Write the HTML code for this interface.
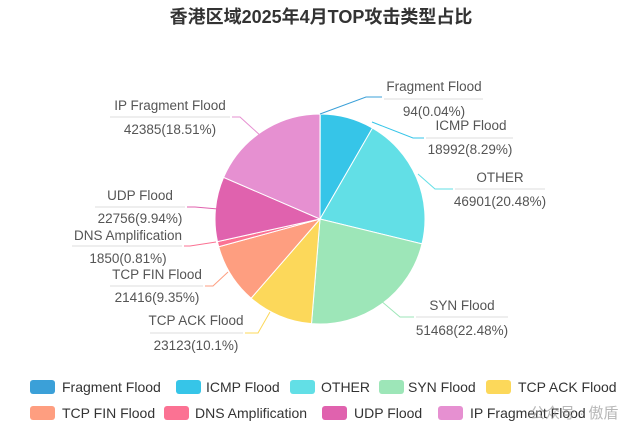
<!DOCTYPE html>
<html><head><meta charset="utf-8"><style>
body{margin:0;width:642px;height:434px;background:#fff;overflow:hidden;font-family:"Liberation Sans","Noto Sans CJK SC",sans-serif}
</style></head><body>
<svg id="s" width="642" height="434" xmlns="http://www.w3.org/2000/svg" font-family="Liberation Sans, Noto Sans CJK SC, sans-serif">
<text x="321" y="23" text-anchor="middle" font-size="18" font-weight="bold" fill="#333">香港区域2025年4月TOP攻击类型占比</text>
<g id="pie"></g>
<g font-size="13.5" fill="#555" text-anchor="middle" stroke-width="1">
<polyline points="320,114 366,97 382,97" fill="none" stroke="#3ba0d8"/>
<text x="434" y="91">Fragment Flood</text><line x1="384" y1="99" x2="483" y2="99" stroke="#ddd"/><text x="434" y="116">94(0.04%)</text>
<polyline points="372,122 413,138 424,138" fill="none" stroke="#36c5e8"/>
<text x="471" y="130">ICMP Flood</text><line x1="426" y1="138" x2="513" y2="138" stroke="#ddd"/><text x="470" y="154">18992(8.29%)</text>
<polyline points="418,174 435,189 453,189" fill="none" stroke="#62dfe6"/>
<text x="500" y="182">OTHER</text><line x1="455" y1="189" x2="545" y2="189" stroke="#ddd"/><text x="500" y="206">46901(20.48%)</text>
<polyline points="380,300 400,317 414,317" fill="none" stroke="#9de6b8"/>
<text x="462" y="310">SYN Flood</text><line x1="416" y1="317" x2="508" y2="317" stroke="#ddd"/><text x="462" y="335">51468(22.48%)</text>
<polyline points="270,312 258,333 245,333" fill="none" stroke="#fcd85a"/>
<text x="196" y="325">TCP ACK Flood</text><line x1="150" y1="333" x2="243" y2="333" stroke="#ddd"/><text x="196" y="350">23123(10.1%)</text>
<polyline points="228,272 213,286 205,286" fill="none" stroke="#fe9e80"/>
<text x="157" y="279">TCP FIN Flood</text><line x1="110" y1="286" x2="203" y2="286" stroke="#ddd"/><text x="157" y="302">21416(9.35%)</text>
<polyline points="216,242 190,246 184,246" fill="none" stroke="#fb7293"/>
<text x="128" y="240">DNS Amplification</text><line x1="72" y1="246" x2="182" y2="246" stroke="#ddd"/><text x="128" y="263">1850(0.81%)</text>
<polyline points="218,209 195,207 187,207" fill="none" stroke="#e062ae"/>
<text x="140" y="200">UDP Flood</text><line x1="95" y1="207" x2="185" y2="207" stroke="#ddd"/><text x="140" y="223">22756(9.94%)</text>
<polyline points="262,137 240,117 232,117" fill="none" stroke="#e690d1"/>
<text x="170" y="110">IP Fragment Flood</text><line x1="110" y1="117" x2="230" y2="117" stroke="#ddd"/><text x="170" y="134">42385(18.51%)</text>
</g>
<g font-size="14" fill="#333">
<rect x="30" y="380" width="25" height="14" rx="3" fill="#3ba0d8"/><text x="62" y="392">Fragment Flood</text>
<rect x="176" y="380" width="25" height="14" rx="3" fill="#36c5e8"/><text x="206" y="392">ICMP Flood</text>
<rect x="290" y="380" width="25" height="14" rx="3" fill="#62dfe6"/><text x="321" y="392">OTHER</text>
<rect x="379" y="380" width="25" height="14" rx="3" fill="#9de6b8"/><text x="408" y="392">SYN Flood</text>
<rect x="486" y="380" width="25" height="14" rx="3" fill="#fcd85a"/><text x="518" y="392">TCP ACK Flood</text>
<rect x="30" y="406" width="25" height="14" rx="3" fill="#fe9e80"/><text x="62" y="418">TCP FIN Flood</text>
<rect x="164" y="406" width="25" height="14" rx="3" fill="#fb7293"/><text x="195" y="418">DNS Amplification</text>
<rect x="322" y="406" width="25" height="14" rx="3" fill="#e062ae"/><text x="354" y="418">UDP Flood</text>
<rect x="438" y="406" width="25" height="14" rx="3" fill="#e690d1"/><text x="470" y="418">IP Fragment Flood</text>
</g>
<text x="530" y="418" font-size="15" fill="#999" opacity="0.7">公众号 · 傲盾</text>
</svg>
<script>
var d=[[0.04,"#3ba0d8"],[8.29,"#36c5e8"],[20.48,"#62dfe6"],[22.48,"#9de6b8"],[10.1,"#fcd85a"],[9.35,"#fe9e80"],[0.81,"#fb7293"],[9.94,"#e062ae"],[18.51,"#e690d1"]];
var tot=0;d.forEach(function(x){tot+=x[0]});
var cx=320,cy=219,r=105,a=0,h="";
d.forEach(function(x){var s=a,e=a+x[0]/tot*2*Math.PI;a=e;
var x1=cx+r*Math.sin(s),y1=cy-r*Math.cos(s),x2=cx+r*Math.sin(e),y2=cy-r*Math.cos(e);
h+='<path d="M'+cx+','+cy+'L'+x1+','+y1+'A'+r+','+r+' 0 '+((e-s)>Math.PI?1:0)+' 1 '+x2+','+y2+'Z" fill="'+x[1]+'" stroke="#fff" stroke-width="1"/>';});
document.getElementById("pie").innerHTML=h;
</script>
</body></html>
